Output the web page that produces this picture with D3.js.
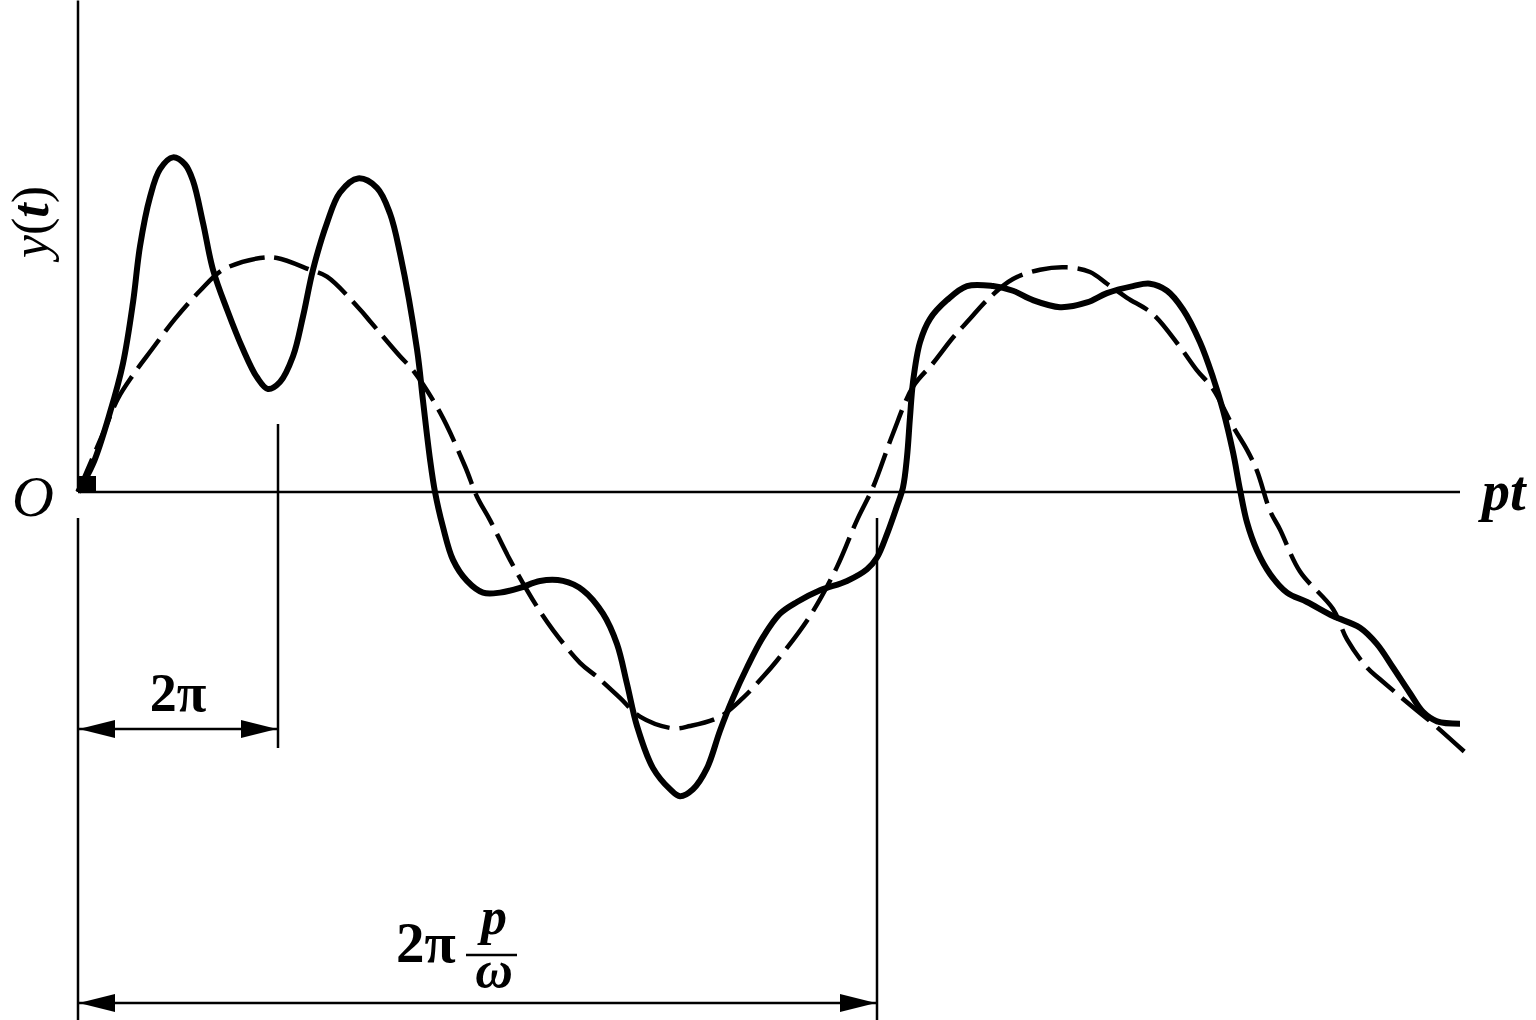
<!DOCTYPE html>
<html>
<head>
<meta charset="utf-8">
<script src="https://cdn.jsdelivr.net/npm/d3@7"></script>
<style>
html,body{margin:0;padding:0;background:#fff;}
svg{display:block;}
text{font-family:"Liberation Serif","DejaVu Serif",serif;fill:#000;}
</style>
</head>
<body>
<svg id="chart" width="1536" height="1020"></svg>
<script>
// x in units of pi (pt / pi), y in units of the dashed-curve amplitude
const solidX = [0,0.15,0.32,0.45,0.55,0.62,0.72,0.82,0.95,1.07,1.15,1.25,1.35,1.49,1.65,1.79,1.90,2.02,2.15,2.25,2.35,2.49,2.62,2.80,2.99,3.12,3.22,3.39,3.45,3.52,3.57,3.65,3.75,3.89,4.05,4.22,4.42,4.62,4.85,5.05,5.25,5.39,5.49,5.59,5.75,5.92,6.02,6.15,6.29,6.42,6.55,6.69,6.85,7.02,7.19,7.42,7.69,7.89,7.99,8.09,8.19,8.25,8.29,8.32,8.35,8.42,8.52,8.69,8.89,9.15,9.35,9.55,9.82,10.09,10.29,10.55,10.72,10.89,11.05,11.22,11.35,11.45,11.55,11.62,11.69,11.79,11.92,12.09,12.29,12.55,12.82,12.99,13.15,13.32,13.45,13.59,13.82];
const solidY = [0,0.12,0.34,0.55,0.81,1.05,1.26,1.38,1.43,1.40,1.33,1.15,0.95,0.78,0.61,0.49,0.44,0.47,0.58,0.75,0.95,1.15,1.28,1.34,1.30,1.19,1.02,0.61,0.39,0.14,0.00,-0.15,-0.29,-0.38,-0.43,-0.43,-0.41,-0.38,-0.38,-0.42,-0.52,-0.65,-0.82,-1.00,-1.18,-1.27,-1.30,-1.27,-1.18,-1.02,-0.88,-0.75,-0.62,-0.52,-0.47,-0.42,-0.38,-0.33,-0.28,-0.18,-0.06,0.02,0.15,0.32,0.47,0.64,0.74,0.82,0.88,0.88,0.86,0.82,0.79,0.81,0.85,0.88,0.89,0.86,0.78,0.64,0.49,0.35,0.17,0.01,-0.13,-0.25,-0.35,-0.43,-0.47,-0.53,-0.58,-0.65,-0.75,-0.86,-0.94,-0.98,-0.99];

const dashX = [0,0.13,0.26,0.40,0.55,0.74,0.97,1.22,1.45,1.82,1.99,2.32,2.49,2.82,2.92,3.22,3.35,3.62,3.87,3.99,4.12,4.32,4.59,4.75,5.02,5.19,5.42,5.62,5.95,6.12,6.42,6.65,6.85,6.99,7.32,7.59,7.79,7.95,8.15,8.35,8.55,8.75,8.92,9.09,9.35,9.62,9.89,10.12,10.29,10.49,10.75,11.02,11.19,11.35,11.55,11.69,11.79,11.92,12.02,12.22,12.55,12.69,12.89,13.02,13.35,13.55,13.89];
const dashY = [0,0.13,0.26,0.40,0.50,0.61,0.74,0.86,0.95,1.00,1.00,0.95,0.92,0.78,0.73,0.58,0.52,0.34,0.11,-0.02,-0.12,-0.29,-0.49,-0.59,-0.73,-0.79,-0.88,-0.96,-1.01,-1.00,-0.96,-0.88,-0.79,-0.72,-0.53,-0.32,-0.12,0.02,0.25,0.45,0.55,0.66,0.74,0.82,0.91,0.95,0.96,0.94,0.89,0.83,0.76,0.62,0.52,0.44,0.28,0.18,0.09,-0.08,-0.16,-0.34,-0.50,-0.63,-0.75,-0.80,-0.92,-0.99,-1.12];

// annotations
const axisLabels = {x: "pt", origin: "O"};
const dimStarts = [0, 0];
const dimEnds = [2, 8];
const dimLabels = ["2π", "2π"];
const xAxisEnd = 13.82;
const yAxisTop = 2.1;

const svg = d3.select("#chart");
const x = d3.scaleLinear().domain([0, 8]).range([78, 878]);
const y = d3.scaleLinear().domain([-1, 1]).range([726, 258]);

// axes
svg.append("line").attr("x1", x(0)).attr("x2", x(xAxisEnd)).attr("y1", y(0)).attr("y2", y(0))
  .attr("stroke", "#000").attr("stroke-width", 2.5);
svg.append("line").attr("x1", x(0)).attr("x2", x(0)).attr("y1", y(0)).attr("y2", y(yAxisTop))
  .attr("stroke", "#000").attr("stroke-width", 2.5);

// curves
const lineGen = d3.line().x(d => x(d[0])).y(d => y(d[1])).curve(d3.curveCatmullRom.alpha(0.5));
const dashData = dashX.map((v, i) => [v, dashY[i]]);
const solidData = solidX.map((v, i) => [v, solidY[i]]);

svg.append("path").datum(dashData).attr("d", lineGen)
  .attr("fill", "none").attr("stroke", "#000").attr("stroke-width", 4.5)
  .attr("stroke-dasharray", "36,10");
svg.append("path").datum(solidData).attr("d", lineGen)
  .attr("fill", "none").attr("stroke", "#000").attr("stroke-width", 6)
  .attr("stroke-linejoin", "round");

// origin blob
svg.append("rect").attr("x", x(0)).attr("y", y(0) - 16).attr("width", 18).attr("height", 16).attr("fill", "#000");

// labels
svg.append("text").attr("x", x(xAxisEnd) + 22).attr("y", y(0) + 18)
  .attr("font-size", 56).attr("font-style", "italic").attr("font-weight", "bold").text(axisLabels.x);
svg.append("text").attr("x", 12).attr("y", 516)
  .attr("font-size", 58).attr("font-style", "italic").text(axisLabels.origin);

const yl = svg.append("text").attr("transform", `translate(${x(0) - 30},${222}) rotate(-90)`)
  .attr("text-anchor", "middle").attr("font-size", 52);
yl.append("tspan").attr("font-style", "italic").text("y");
yl.append("tspan").text("(");
yl.append("tspan").attr("font-style", "italic").attr("font-weight", "bold").text("t");
yl.append("tspan").text(")");

// arrowhead marker
const defs = svg.append("defs");
["s", "e"].forEach(k => {
  defs.append("marker").attr("id", "arr" + k).attr("viewBox", "0 0 36 18")
    .attr("refX", k === "e" ? 36 : 0).attr("refY", 9)
    .attr("markerWidth", 36).attr("markerHeight", 18).attr("markerUnits", "userSpaceOnUse")
    .attr("orient", "auto")
    .append("path").attr("d", k === "e" ? "M0,0 L36,9 L0,18 Z" : "M36,0 L0,9 L36,18 Z").attr("fill", "#000");
});

// dimension 1: 2π
const d1y = 729;
svg.append("line").attr("x1", x(dimEnds[0])).attr("x2", x(dimEnds[0])).attr("y1", 424).attr("y2", 748)
  .attr("stroke", "#000").attr("stroke-width", 2.5);
svg.append("line").attr("x1", x(dimStarts[0]) + 1).attr("x2", x(dimEnds[0]) - 1).attr("y1", d1y).attr("y2", d1y)
  .attr("stroke", "#000").attr("stroke-width", 2.5)
  .attr("marker-start", "url(#arrs)").attr("marker-end", "url(#arre)");
svg.append("text").attr("x", (x(dimStarts[0]) + x(dimEnds[0])) / 2).attr("y", 711)
  .attr("text-anchor", "middle").attr("font-size", 54).attr("font-weight", "bold").text(dimLabels[0]);

// dimension 2: 2π p/ω
const d2y = 1003;
svg.append("line").attr("x1", x(0)).attr("x2", x(0)).attr("y1", 518).attr("y2", 1020)
  .attr("stroke", "#000").attr("stroke-width", 2.5);
svg.append("line").attr("x1", x(dimEnds[1]) - 1).attr("x2", x(dimEnds[1]) - 1).attr("y1", 518).attr("y2", 1020)
  .attr("stroke", "#000").attr("stroke-width", 2.5);
svg.append("line").attr("x1", x(dimStarts[1]) + 1).attr("x2", x(dimEnds[1]) - 2).attr("y1", d2y).attr("y2", d2y)
  .attr("stroke", "#000").attr("stroke-width", 2.5)
  .attr("marker-start", "url(#arrs)").attr("marker-end", "url(#arre)");
svg.append("text").attr("x", 396).attr("y", 962).attr("font-size", 57).attr("font-weight", "bold").text(dimLabels[1]);
svg.append("text").attr("x", 494).attr("y", 934).attr("text-anchor", "middle")
  .attr("font-size", 52).attr("font-style", "italic").attr("font-weight", "bold").text("p");
svg.append("line").attr("x1", 466).attr("x2", 517).attr("y1", 955).attr("y2", 955)
  .attr("stroke", "#000").attr("stroke-width", 2.5);
svg.append("text").attr("x", 494).attr("y", 987).attr("text-anchor", "middle")
  .attr("font-size", 52).attr("font-style", "italic").attr("font-weight", "bold").text("ω");
</script>
</body>
</html>
